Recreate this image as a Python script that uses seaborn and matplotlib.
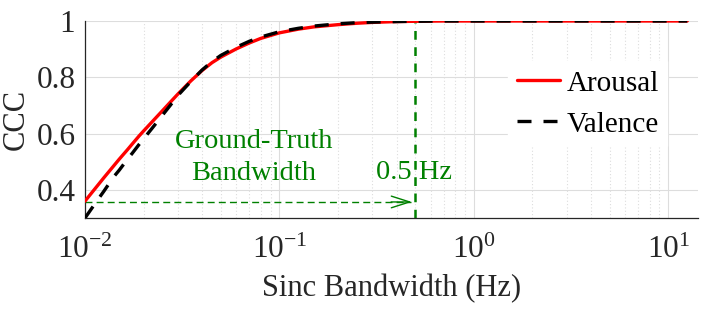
import matplotlib
matplotlib.use("Agg")
import matplotlib.pyplot as plt
import pandas as pd
import seaborn as sns

# CCC of the sinc-filtered labels against the sinc bandwidth
bandwidth_hz = [0.01, 0.0115, 0.0125, 0.014, 0.015, 0.0165, 0.0175, 0.019, 0.02, 0.0225,
                0.025, 0.0275, 0.03, 0.035, 0.04, 0.045, 0.05, 0.06, 0.07, 0.08, 0.1,
                0.125, 0.15, 0.2, 0.25, 0.3, 0.4, 0.5, 0.7, 1.0, 2.0, 5.0, 12.5]
arousal_ccc = [0.36, 0.412, 0.443, 0.484, 0.509, 0.542, 0.563, 0.592, 0.609, 0.647,
               0.681, 0.712, 0.74, 0.787, 0.824, 0.852, 0.872, 0.901, 0.922, 0.938, 0.958,
               0.971, 0.979, 0.987, 0.992, 0.995, 0.998, 0.999, 1.0, 1.0, 1.0, 1.0, 1.0]
valence_ccc = [0.30, 0.36, 0.395, 0.445, 0.47, 0.508, 0.53, 0.562, 0.581, 0.625,
               0.665, 0.701, 0.735, 0.785, 0.826, 0.856, 0.878, 0.907, 0.928, 0.943, 0.962,
               0.974, 0.982, 0.99, 0.994, 0.996, 0.998, 0.999, 1.0, 1.0, 1.0, 1.0, 1.0]

gt_bandwidth = 0.5
arrow_level = 0.357
yticks = [0.4, 0.6, 0.8, 1.0]
ytick_labels = ["0.4", "0.6", "0.8", "1"]

sns.set_theme(style="white")
plt.rcParams["font.family"] = ["Liberation Serif", "DejaVu Serif"]
plt.rcParams["mathtext.fontset"] = "custom"
plt.rcParams["mathtext.rm"] = "Liberation Serif"
plt.rcParams["mathtext.default"] = "regular"
plt.rcParams["axes.unicode_minus"] = False

GREEN = "#008000"
DARK = "#262626"
FS = 22

df = pd.DataFrame({
    "bandwidth": bandwidth_hz * 2,
    "ccc": arousal_ccc + valence_ccc,
    "emotion": ["Arousal"] * len(bandwidth_hz) + ["Valence"] * len(bandwidth_hz),
})

fig = plt.figure(figsize=(7.06, 3.10), dpi=100)
ax = fig.add_axes([85 / 706, 92 / 310, 613 / 706, 197 / 310])

sns.lineplot(data=df, x="bandwidth", y="ccc", hue="emotion", style="emotion",
             palette={"Arousal": "#ff0000", "Valence": "black"},
             dashes={"Arousal": "", "Valence": (4.2, 3.6)},
             linewidth=2.4, ax=ax, zorder=3)

ax.set_xscale("log")
ax.set_xlim(0.01, 14.2)
ax.set_ylim(0.30, 1.0)

# ground-truth bandwidth marker
ax.plot([gt_bandwidth, gt_bandwidth], [ax.get_ylim()[0], 1.0], color=GREEN,
        linestyle=(0, (3.5, 3.0)), linewidth=1.8, zorder=2)
ax.plot([bandwidth_hz[0], gt_bandwidth * 0.95], [arrow_level, arrow_level], color=GREEN,
        linestyle=(0, (5, 3)), linewidth=1.0, zorder=2)
ax.annotate("", xy=(gt_bandwidth * 0.96, arrow_level), xytext=(gt_bandwidth * 0.75, arrow_level),
            arrowprops=dict(arrowstyle="->,head_length=1.1,head_width=0.35", color=GREEN,
                            lw=1.0, shrinkA=0, shrinkB=0))
ax.text(0.074, 0.515, "Ground-Truth\nBandwidth", color=GREEN, fontsize=20.5,
        ha="center", va="center", linespacing=1.42)
ax.text(0.494, 0.462, "0.5 Hz", color=GREEN, fontsize=20.5, ha="center", va="center")

ax.set_yticks(yticks)
ax.set_yticklabels(ytick_labels)
ax.set_xlabel("Sinc Bandwidth (Hz)", fontsize=FS, color=DARK, labelpad=6)
ax.set_ylabel("CCC", fontsize=FS, color=DARK, labelpad=4)

ax.grid(True, which="major", axis="both", color="#dddddd", linewidth=0.8)
ax.grid(True, which="minor", axis="x", color="#dddddd", linewidth=0.8, linestyle=(0, (1, 2)))
ax.set_axisbelow(True)
ax.tick_params(axis="both", which="major", direction="in", length=5, width=0.8,
               colors=DARK, labelsize=22.5)
ax.tick_params(axis="x", which="major", pad=13)
ax.tick_params(axis="y", which="major", pad=7)
ax.tick_params(axis="x", which="minor", direction="in", length=3, width=0.6, colors=DARK)
ax.tick_params(axis="y", which="minor", length=0)

for side in ("top", "right"):
    ax.spines[side].set_visible(False)
for side in ("left", "bottom"):
    ax.spines[side].set_color(DARK)
    ax.spines[side].set_linewidth(0.9)

leg = ax.legend(loc="center left", bbox_to_anchor=(0.69, 0.579), fontsize=21,
                frameon=True, fancybox=False, framealpha=1, edgecolor="white",
                handlelength=1.5, handletextpad=0.2, labelspacing=0.5,
                borderpad=0.3, borderaxespad=0)
for text in leg.get_texts():
    text.set_color("black")

fig.savefig("out.png", dpi=100)
